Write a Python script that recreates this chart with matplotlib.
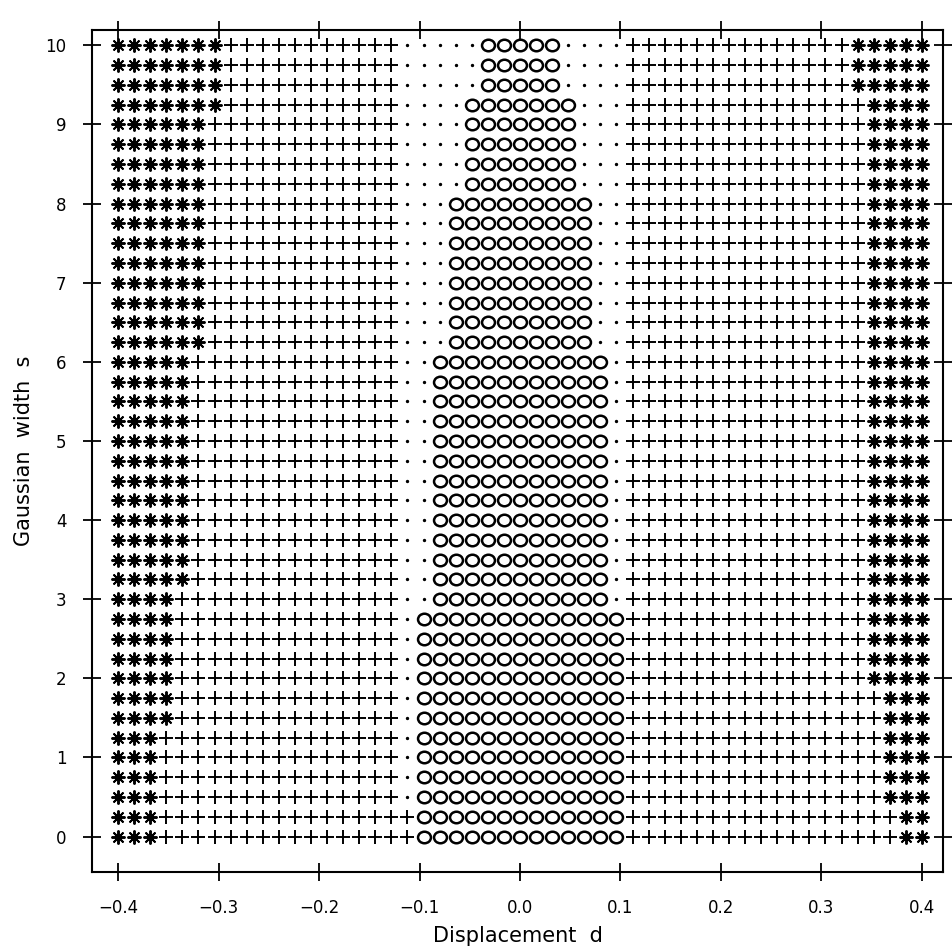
import numpy as np
import matplotlib
matplotlib.use("Agg")
import matplotlib.pyplot as plt
from matplotlib.path import Path
from matplotlib.transforms import Affine2D

# Grid of the simulation: displacement d (columns) and Gaussian width s (rows)
d_values = np.round(np.linspace(-0.4, 0.4, 51), 3)
s_values = np.round(np.arange(0, 10.01, 0.25), 2)   # bottom (s=0) to top (s=10)

# Per-row layout (rows listed from s=0 upwards)
left_star_count = [3]*6 + [4]*7 + [5]*12 + [6]*12 + [7]*4
left_plus_last = [18]*2 + [17]*39
o_first = [19]*12 + [20]*13 + [21]*8 + [22]*5 + [23]*3
o_last = [31]*12 + [30]*13 + [29]*8 + [28]*5 + [27]*3
right_plus_first = [32]*41
right_star_count = [2]*2 + [3]*6 + [4]*30 + [5]*3

x_ticks = [-0.4, -0.3, -0.2, -0.1, 0.0, 0.1, 0.2, 0.3, 0.4]
x_ticklabels = ["\u22120.4", "\u22120.3", "\u22120.2", "\u22120.1", "0.0", "0.1", "0.2", "0.3", "0.4"]
y_ticks = [0, 1, 2, 3, 4, 5, 6, 7, 8, 9, 10]

# classify every cell
n_cols = len(d_values)
cls = {"star": ([], []), "plus": ([], []), "dot": ([], []), "o": ([], [])}
for r, s in enumerate(s_values):
    for i, d in enumerate(d_values):
        if i < left_star_count[r] or i >= n_cols - right_star_count[r]:
            k = "star"
        elif i <= left_plus_last[r] or i >= right_plus_first[r]:
            k = "plus"
        elif o_first[r] <= i <= o_last[r]:
            k = "o"
        else:
            k = "dot"
        cls[k][0].append(d)
        cls[k][1].append(s)

fig = plt.figure(figsize=(9.53, 9.48), dpi=100)
ax = fig.add_axes([0.0965, 0.080, 0.893, 0.888])

ellipse = Path.unit_circle().transformed(Affine2D().scale(1.12, 1.0))

ax.plot(*cls["star"], linestyle="none", marker=(8, 2, 0), markersize=10,
        markeredgewidth=1.4, color="black")
ax.plot(*cls["plus"], linestyle="none", marker="+", markersize=10,
        markeredgewidth=1.4, color="black")
ax.plot(*cls["o"], linestyle="none", marker=ellipse, markersize=9.3,
        markerfacecolor="none", markeredgewidth=1.8, markeredgecolor="black")
ax.plot(*cls["dot"], linestyle="none", marker="o", markersize=1.4,
        color="black")

ax.set_xlim(-0.426, 0.421)
ax.set_ylim(-0.45, 10.19)

ax.set_xticks(x_ticks)
ax.set_xticklabels(x_ticklabels)
ax.set_yticks(y_ticks)
ax.set_yticklabels([str(v) for v in y_ticks])

for sp in ax.spines.values():
    sp.set_linewidth(1.5)

ax.tick_params(axis="both", which="major", direction="inout", length=13,
               width=1.3, top=True, right=True, labelsize=12)
ax.tick_params(axis="x", pad=13)
ax.tick_params(axis="y", pad=12)

ax.set_xlabel("Displacement  d", fontsize=15, labelpad=6)
ax.set_ylabel("Gaussian  width  s", fontsize=15, labelpad=8)

fig.savefig("out.png", dpi=100)
